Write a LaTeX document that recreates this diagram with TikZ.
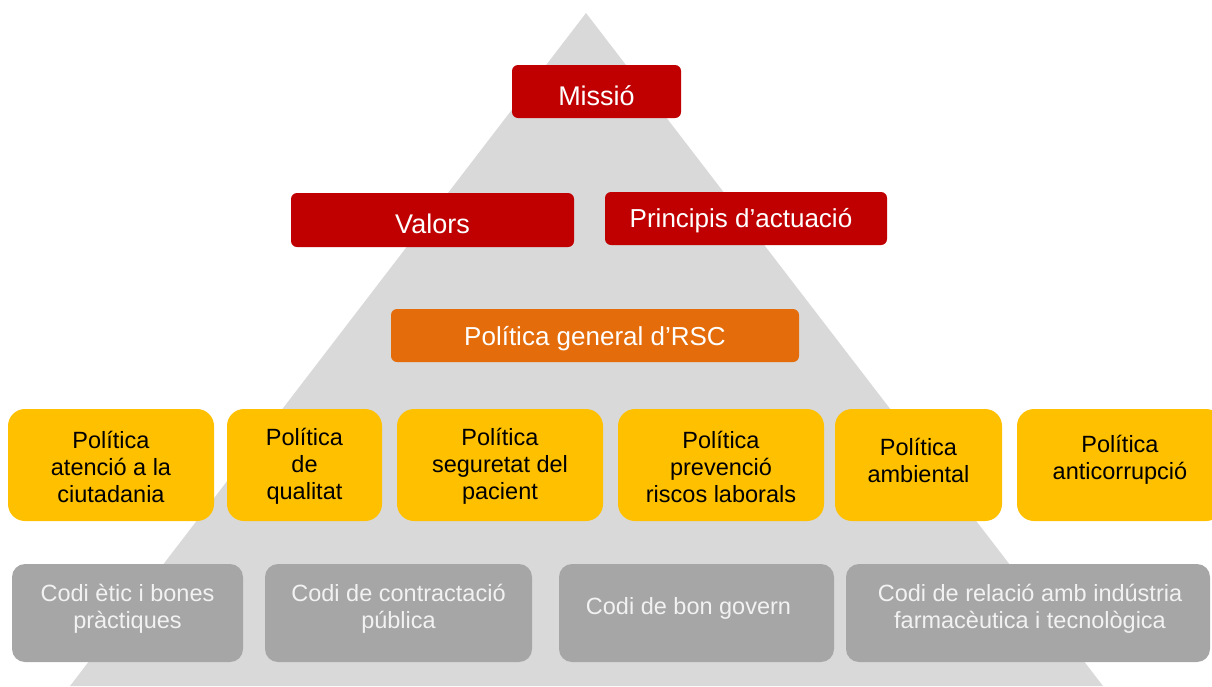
\documentclass[tikz,border=0pt]{standalone}
\usepackage{fontspec}
\setmainfont{Liberation Sans}
\definecolor{tri}{HTML}{D9D9D9}
\definecolor{redbox}{HTML}{C00000}
\definecolor{orangebox}{HTML}{E46C0A}
\definecolor{yellowbox}{HTML}{FFC000}
\definecolor{graybox}{HTML}{A6A6A6}
\definecolor{graytxt}{HTML}{F2F2F2}
\tikzset{
  redstyle/.style={fill=redbox, rounded corners=6pt, inner sep=0pt},
  orangestyle/.style={fill=orangebox, rounded corners=6pt, inner sep=0pt},
  yellowstyle/.style={fill=yellowbox, rounded corners=17pt, inner sep=0pt},
  graystyle/.style={fill=graybox, rounded corners=13pt, inner sep=0pt},
  bigtxt/.style={text=white, font=\fontsize{27}{31}\selectfont, inner sep=0pt},
  midtxt/.style={text=white, font=\fontsize{26}{30}\selectfont, inner sep=0pt},
  ytxt/.style={text=black, align=center, font=\fontsize{23.5}{27}\selectfont, inner sep=0pt},
  gtxt/.style={text=graytxt, align=center, font=\fontsize{23.5}{27}\selectfont, inner sep=0pt},
}
\begin{document}
\begin{tikzpicture}[x=1pt, y=-1pt]
\useasboundingbox (0,0) rectangle (1212,686);
\clip (0,0) rectangle (1212,686);
% pyramid
\fill[tri] (586,13) -- (1103,686) -- (70,686) -- cycle;
% top level
\node[redstyle, minimum width=169pt, minimum height=53pt] (mis) at (596.5,91.5) {};
\node[bigtxt] (mist) at (596.5,96) {Missió};
\node[redstyle, minimum width=283pt, minimum height=54pt] (val) at (432.5,220) {};
\node[bigtxt] (valt) at (432.5,223.5) {Valors};
\node[redstyle, minimum width=282pt, minimum height=53pt] (pri) at (746,218.5) {};
\node[midtxt] (prit) at (741,220.5) {Principis d’actuació};
\node[orangestyle, minimum width=408pt, minimum height=53pt] (rsc) at (595,335.5) {};
\node[midtxt] (rsct) at (595,338.5) {Política general d’RSC};
% policies
\node[yellowstyle, minimum width=206pt, minimum height=112pt] (p1) at (111,465) {};
\node[ytxt] (p1t) at (111,466.5) {Política\\atenció a la\\ciutadania};
\node[yellowstyle, minimum width=155pt, minimum height=112pt] (p2) at (304.5,465) {};
\node[ytxt] (p2t) at (304.5,466.5) {Política\\de\\qualitat};
\node[yellowstyle, minimum width=206pt, minimum height=112pt] (p3) at (500,465) {};
\node[ytxt] (p3t) at (500,466.5) {Política\\seguretat del\\pacient};
\node[yellowstyle, minimum width=206pt, minimum height=112pt] (p4) at (721,465) {};
\node[ytxt] (p4t) at (721,466.5) {Política\\prevenció\\riscos laborals};
\node[yellowstyle, minimum width=167pt, minimum height=112pt] (p5) at (918.5,465) {};
\node[ytxt] (p5t) at (918.5,460) {Política\\ambiental};
\node[yellowstyle, minimum width=206pt, minimum height=112pt] (p6) at (1120,465) {};
\node[ytxt] (p6t) at (1120,460) {Política\\anticorrupció};
% codes
\node[graystyle, minimum width=231pt, minimum height=98pt] (c1) at (127.5,613) {};
\node[gtxt] (c1t) at (127.5,609) {Codi ètic i bones\\pràctiques};
\node[graystyle, minimum width=267pt, minimum height=98pt] (c2) at (398.5,613) {};
\node[gtxt] (c2t) at (398.5,609) {Codi de contractació\\pública};
\node[graystyle, minimum width=275pt, minimum height=98pt] (c3) at (696.5,613) {};
\node[gtxt] (c3t) at (688.5,608) {Codi de bon govern};
\node[graystyle, minimum width=364pt, minimum height=98pt] (c4) at (1028,613) {};
\node[gtxt] (c4t) at (1030,609) {Codi de relació amb indústria\\farmacèutica i tecnològica};
\end{tikzpicture}
\end{document}
